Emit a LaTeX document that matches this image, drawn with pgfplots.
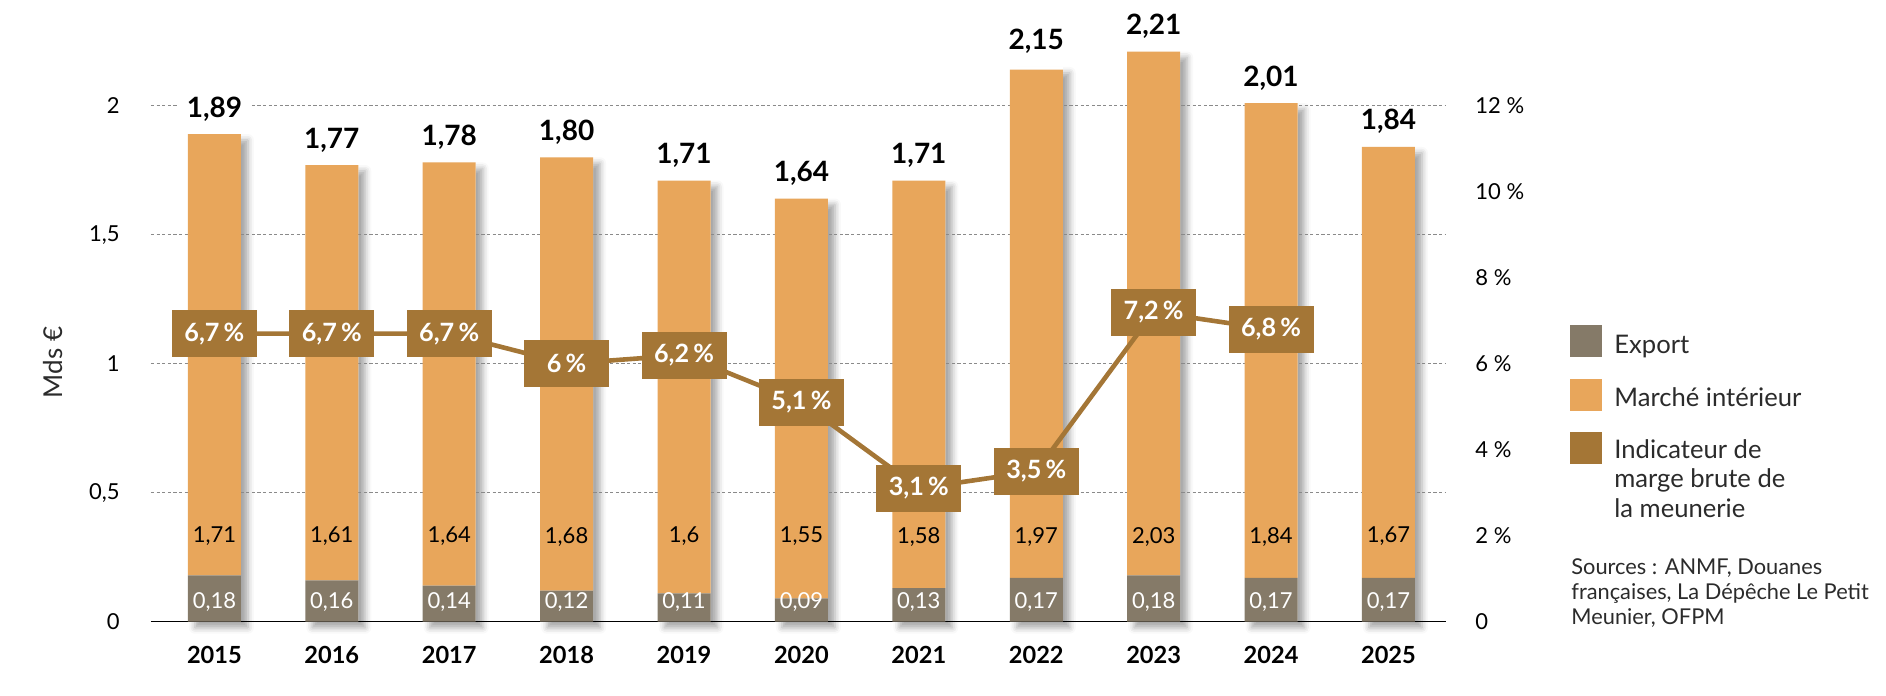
\documentclass[border=0pt]{standalone}
\usepackage{pgfplots}
\pgfplotsset{compat=1.18}
\usepackage{fontspec}
\setmainfont{Lato}
\usetikzlibrary{shadows.blur}

\definecolor{export}{HTML}{857A68}
\definecolor{interieur}{HTML}{E8A65B}
\definecolor{marge}{HTML}{A47636}
\definecolor{gridgray}{HTML}{8A8A8A}
\definecolor{legtext}{HTML}{2B2B2B}

\pgfplotsset{
  base/.style={
    width=647.5pt, height=309.6pt, scale only axis,
    xmin=-0.54, xmax=10.49, ymin=0, ymax=2.4,
    clip=false,
  },
}

\begin{document}
\begin{tikzpicture}
\useasboundingbox (-75.5pt,-37.15pt) rectangle (867.5pt,310.85pt);

% soft shadows behind the bars
\begin{axis}[base, hide axis]
\addplot[ybar, bar width=26.5pt, fill=white, draw=none,
  blur shadow={shadow xshift=3.5pt, shadow yshift=-3pt,
               shadow blur radius=3pt, shadow opacity=35}]
  coordinates {(0,1.89) (1,1.77) (2,1.78) (3,1.80) (4,1.71) (5,1.64)
               (6,1.71) (7,2.15) (8,2.21) (9,2.01) (10,1.84)};
\end{axis}

% stacked bars: export + domestic market
\begin{axis}[base, ybar stacked, bar width=26.5pt,
  axis x line*=bottom, axis y line*=left,
  x axis line style={-, line width=0.7pt, black},
  y axis line style={draw=none},
  major tick length=0pt,
  xtick={0,...,10},
  xticklabels={2015,2016,2017,2018,2019,2020,2021,2022,2023,2024,2025},
  ytick={0,0.5,1,1.5,2},
  yticklabels={0,{0,5},1,{1,5},2},
  ymajorgrids,
  grid style={gridgray, line width=0.5pt, dash pattern=on 1.6pt off 1.2pt},
  xticklabel style={font=\bfseries\fontsize{11.8}{13}\selectfont, anchor=base, inner sep=0pt, yshift=-20.8pt},
  yticklabel style={font=\fontsize{11}{13}\selectfont, anchor=east, inner sep=0pt, xshift=-15.5pt},
]
\addplot[fill=export, draw=none]
  coordinates {(0,0.18) (1,0.16) (2,0.14) (3,0.12) (4,0.11) (5,0.09)
               (6,0.13) (7,0.17) (8,0.18) (9,0.17) (10,0.17)};
\addplot[fill=interieur, draw=none]
  coordinates {(0,1.71) (1,1.61) (2,1.64) (3,1.68) (4,1.6) (5,1.55)
               (6,1.58) (7,1.97) (8,2.03) (9,1.84) (10,1.67)};
\end{axis}

% value labels
\begin{axis}[base, hide axis]
% totals above the bars
\addplot[draw=none, no marks, nodes near coords, point meta=explicit symbolic,
  every node near coord/.append style={anchor=base, yshift=8.5pt, fill=white,
    inner xsep=4.5pt, inner ysep=2pt, text=black,
    font=\bfseries\fontsize{14}{16}\selectfont}]
  table[meta=lab] {
  x y lab
  0 1.89 1,89
  1 1.77 1,77
  2 1.78 1,78
  3 1.80 1,80
  4 1.71 1,71
  5 1.64 1,64
  6 1.71 1,71
  7 2.15 2,15
  8 2.21 2,21
  9 2.01 2,01
  10 1.84 1,84
  };
% domestic market values
\addplot[draw=none, no marks, nodes near coords, point meta=explicit symbolic,
  every node near coord/.append style={anchor=center, text=black,
    font=\fontsize{11}{13}\selectfont}]
  table[meta=lab] {
  x y lab
  0 0.33 1,71
  1 0.33 1,61
  2 0.33 1,64
  3 0.33 1,68
  4 0.33 1,6
  5 0.33 1,55
  6 0.33 1,58
  7 0.33 1,97
  8 0.33 2,03
  9 0.33 1,84
  10 0.33 1,67
  };
% export values
\addplot[draw=none, no marks, nodes near coords, point meta=explicit symbolic,
  every node near coord/.append style={anchor=center, text=white,
    font=\fontsize{11}{13}\selectfont}]
  table[meta=lab] {
  x y lab
  0 0.075 0,18
  1 0.075 0,16
  2 0.075 0,14
  3 0.075 0,12
  4 0.075 0,11
  5 0.075 0,09
  6 0.075 0,13
  7 0.075 0,17
  8 0.075 0,18
  9 0.075 0,17
  10 0.075 0,17
  };
\end{axis}

% gross margin indicator on the right-hand scale
\begin{axis}[base, ymin=0, ymax=14.4,
  axis x line=none, axis y line*=right,
  y axis line style={draw=none},
  major tick length=0pt,
  xtick=\empty,
  ytick={0,2,4,6,8,10,12},
  yticklabels={0,2 \%,4 \%,6 \%,8 \%,10 \%,12 \%},
  yticklabel style={font=\fontsize{11}{13}\selectfont, anchor=west, inner sep=0pt, xshift=14.5pt},
]
\addplot[marge, line width=2.3pt, no marks, nodes near coords, point meta=explicit symbolic,
  every node near coord/.append style={anchor=center, fill=marge, text=white,
    minimum width=42.5pt, minimum height=23.5pt, inner sep=0pt,
    font=\bfseries\fontsize{12.6}{14}\selectfont}]
  table[meta=lab] {
  x y lab
  0 6.7 6,7\thinspace\%
  1 6.7 6,7\thinspace\%
  2 6.7 6,7\thinspace\%
  3 6.0 6\thinspace\%
  4 6.2 6,2\thinspace\%
  5 5.1 5,1\thinspace\%
  6 3.1 3,1\thinspace\%
  7 3.5 3,5\thinspace\%
  8 7.2 7,2\thinspace\%
  9 6.8 6,8\thinspace\%
  };
\end{axis}

% axis title
\node[rotate=90, font=\fontsize{13}{15}\selectfont, text=legtext] at (-49pt,129.6pt) {Mds €};

% legend
\fill[export] (709.5pt,132.1pt) rectangle (725.5pt,148.1pt);
\fill[interieur] (709.5pt,105.45pt) rectangle (725.5pt,121.45pt);
\fill[marge] (709.5pt,78.85pt) rectangle (725.5pt,94.85pt);
\begin{scope}[every node/.style={anchor=base west, inner sep=0pt, text=legtext,
    font=\fontsize{12.8}{14.75}\selectfont}]
\node at (731.5pt,134.2pt) {Export};
\node at (731.5pt,107.5pt) {Marché intérieur};
\node at (731.5pt,81.7pt) {Indicateur de};
\node at (731.5pt,66.95pt) {marge brute de};
\node at (731.5pt,52.2pt) {la meunerie};
\end{scope}

% sources
\begin{scope}[every node/.style={anchor=base west, inner sep=0pt, text=legtext,
    font=\fontsize{10.9}{12.5}\selectfont}]
\node at (710pt,23.35pt) {Sources : ANMF, Douanes};
\node at (710pt,10.85pt) {françaises, La Dépêche Le Petit};
\node at (710pt,-1.65pt) {Meunier, OFPM};
\end{scope}
\end{tikzpicture}
\end{document}
